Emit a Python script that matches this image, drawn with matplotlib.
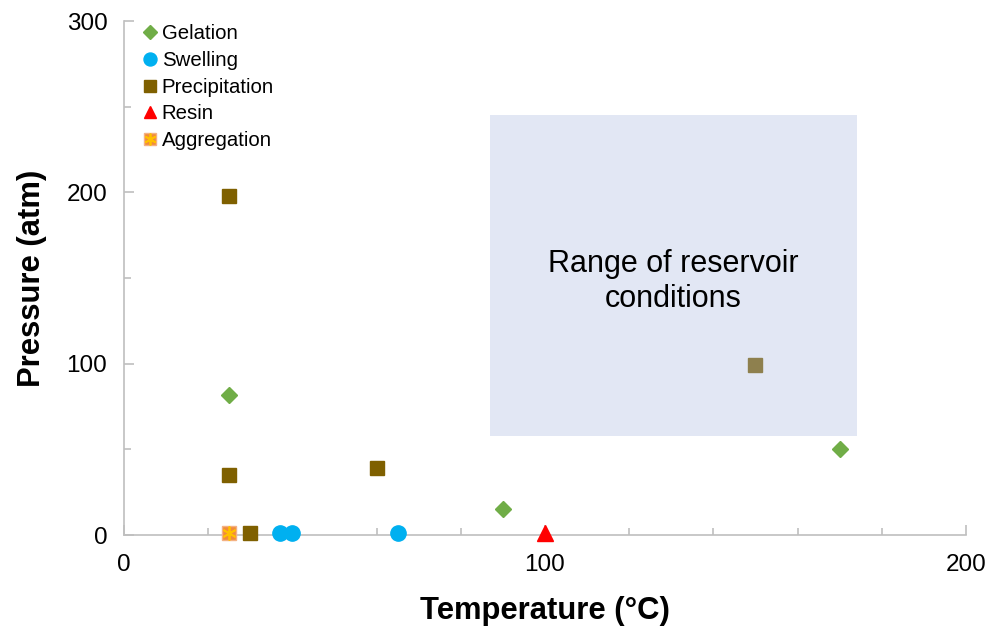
import matplotlib
matplotlib.use("Agg")
import matplotlib.pyplot as plt
from matplotlib.patches import Rectangle
from matplotlib.legend_handler import HandlerTuple

plt.rcParams['font.family'] = ['Liberation Sans', 'DejaVu Sans']

gel_T = [25, 90, 170]
gel_P = [82, 15, 50]
swell_T = [37, 40, 65]
swell_P = [1, 1, 1]
prec_T = [25, 25, 30, 60, 150]
prec_P = [198, 35, 1, 39, 99]
resin_T = [100]
resin_P = [1]
agg_T = [25]
agg_P = [1]

box_T = (87, 174)
box_P = (58, 245)

fig = plt.figure(figsize=(9.89, 6.27), dpi=100)
ax = fig.add_axes([0.1254, 0.1467, 0.8513, 0.8198])

kw = dict(ls='none', clip_on=False)
h_gel, = ax.plot(gel_T, gel_P, 'D', color='#70AD47', ms=8.5, zorder=3, **kw)
h_sw, = ax.plot(swell_T, swell_P, 'o', color='#00B0F0', ms=11, zorder=3, **kw)
h_pr, = ax.plot(prec_T, prec_P, 's', color='#7F6000', ms=10.5, zorder=3, **kw)
h_rs, = ax.plot(resin_T, resin_P, '^', color='#FF0000', ms=11, zorder=3, **kw)
h_ag1, = ax.plot(agg_T, agg_P, 's', color='#F08C3C', mec='#F4B183', ms=10.5, zorder=3, **kw)
h_ag2, = ax.plot(agg_T, agg_P, marker=(6, 2, 0), color='#FFC000', ms=10, mew=1.3, zorder=4, **kw)

ax.add_patch(Rectangle((box_T[0], box_P[0]), box_T[1]-box_T[0], box_P[1]-box_P[0],
                       facecolor='#ACBDE0', alpha=0.35, edgecolor='none', zorder=5))
ax.text((box_T[0]+box_T[1])/2, 148, 'Range of reservoir\nconditions', ha='center', va='center',
        fontsize=22, zorder=6, linespacing=1.18)

ax.set_xlim(0, 200)
ax.set_ylim(0, 300)
ax.set_xticks([0, 100, 200])
ax.set_xticks(range(0, 201, 20), minor=True)
ax.set_yticks([0, 100, 200, 300])
ax.set_yticks([50, 150, 250], minor=True)
for s in ['top', 'right']:
    ax.spines[s].set_visible(False)
for s in ['left', 'bottom']:
    ax.spines[s].set_color('#BFBFBF')
    ax.spines[s].set_linewidth(1.2)
ax.tick_params(which='both', direction='in', color='#BFBFBF', width=1.2, labelsize=17.5)
ax.tick_params(axis='x', pad=14)
ax.tick_params(axis='y', pad=12)
ax.tick_params(which='major', length=7)
ax.tick_params(which='minor', length=5)

ax.set_xlabel('Temperature (°C)', fontsize=22.3, fontweight='bold', labelpad=14)
ax.set_ylabel('Pressure (atm)', fontsize=22.3, fontweight='bold', labelpad=14)

leg = ax.legend([h_gel, h_sw, h_pr, h_rs, (h_ag1, h_ag2)],
                ['Gelation', 'Swelling', 'Precipitation', 'Resin', 'Aggregation'],
                handler_map={tuple: HandlerTuple(ndivide=1)},
                loc='upper left', bbox_to_anchor=(135/989, (627-16)/627),
                bbox_transform=fig.transFigure, frameon=False, fontsize=14.7,
                handlelength=0.7, handletextpad=0.2, labelspacing=0.38, markerscale=0.85,
                borderaxespad=0)

fig.savefig('out.png', dpi=100)
